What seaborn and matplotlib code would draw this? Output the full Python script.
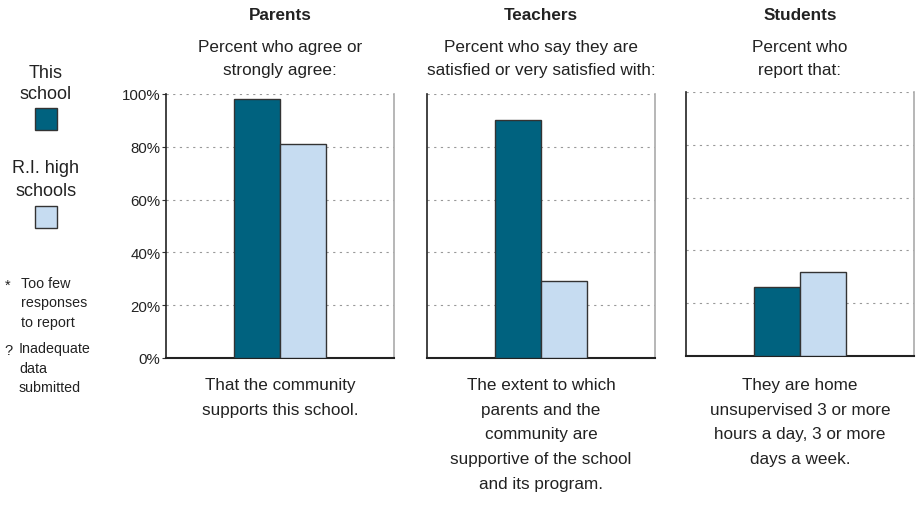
import matplotlib
matplotlib.use("Agg")
import matplotlib.pyplot as plt
import seaborn as sns
import pandas as pd

# ---- data ----
groups = ["Parents", "Teachers", "Students"]
subtitles = ["Percent who agree or\nstrongly agree:",
             "Percent who say they are\nsatisfied or very satisfied with:",
             "Percent who\nreport that:"]
captions = ["That the community\nsupports this school.",
            "The extent to which\nparents and the\ncommunity are\nsupportive of the school\nand its program.",
            "They are home\nunsupervised 3 or more\nhours a day, 3 or more\ndays a week."]
series = ["This school", "R.I. high schools"]
this_school = [98, 90, 26]
ri_high = [81, 29, 32]
yticks = [0, 20, 40, 60, 80, 100]
ytick_labels = ["0%", "20%", "40%", "60%", "80%", "100%"]

colors = {"This school": "#00627F", "R.I. high schools": "#C6DCF1"}
text_color = "#222222"

sns.set_theme(style="white")
plt.rcParams["font.family"] = ["Liberation Sans", "DejaVu Sans"]

W, H = 923, 506
fig = plt.figure(figsize=(W / 100, H / 100), dpi=100)

axes_px = [(166, 95, 228, 264), (427, 95, 228, 264), (686, 93, 228, 264)]

for i, g in enumerate(groups):
    x, top, w, h = axes_px[i]
    ax = fig.add_axes([x / W, (H - top - h) / H, w / W, h / H])
    df = pd.DataFrame({"cat": [g, g], "series": series,
                       "value": [this_school[i], ri_high[i]]})
    sns.barplot(data=df, x="cat", y="value", hue="series", hue_order=series,
                palette=colors, saturation=1, width=0.4, edgecolor="#333333",
                linewidth=1.0, legend=False, ax=ax, zorder=3)
    ax.set_ylim(0, 100)
    ax.set_xlim(-0.5, 0.5)
    ax.set_xlabel("")
    ax.set_ylabel("")
    ax.set_xticks([])
    ax.set_yticks(yticks)
    ax.yaxis.grid(True, linestyle=(0, (2, 4)), color="#999999", linewidth=0.8, zorder=0)
    ax.set_axisbelow(True)
    if i == 0:
        ax.set_yticklabels(ytick_labels, fontsize=10.8, color=text_color)
        ax.tick_params(axis="y", length=3, width=0.8, color="#333333", pad=1, left=True)
    else:
        ax.set_yticklabels([])
        ax.tick_params(axis="y", length=0)
    ax.spines["top"].set_visible(False)
    ax.spines["left"].set_color("#222222")
    ax.spines["left"].set_linewidth(1.2)
    ax.spines["bottom"].set_color("#222222")
    ax.spines["bottom"].set_linewidth(1.5)
    ax.spines["right"].set_color("#aaaaaa")
    ax.spines["right"].set_linewidth(1.2)

    cx = (x + w / 2) / W
    fig.text(cx, 1 - 15 / H, g, ha="center", va="center", fontsize=12.3,
             fontweight="bold", color=text_color)
    fig.text(cx, 1 - 59 / H, subtitles[i], ha="center", va="center", fontsize=12.3,
             color=text_color, linespacing=1.74)
    fig.text(cx, 1 - 378 / H, captions[i], ha="center", va="top", fontsize=12.3,
             color=text_color, linespacing=1.81)

# ---- left legend ----
lx = 46
fig.text(lx / W, 1 - 84 / H, "This\nschool", ha="center", va="center",
         fontsize=13, color=text_color, linespacing=1.36)
fig.text(lx / W, 1 - 180 / H, "R.I. high\nschools", ha="center", va="center",
         fontsize=13, color=text_color, linespacing=1.43)
for top, s in [(109, "This school"), (207, "R.I. high schools")]:
    fig.patches.append(plt.Rectangle((35 / W, 1 - (top + 22) / H), 22 / W, 22 / H,
                                     transform=fig.transFigure, facecolor=colors[s],
                                     edgecolor="#333333", linewidth=1.0))
fig.text(5 / W, 1 - 286 / H, "*", ha="left", va="center", fontsize=10.5, color=text_color)
fig.text(21 / W, 1 - 303 / H, "Too few\nresponses\nto report", ha="left", va="center",
         fontsize=10.3, color=text_color, linespacing=1.5)
fig.text(4 / W, 1 - 351 / H, "?", ha="left", va="center", fontsize=10.5, color=text_color)
fig.text(19 / W, 1 - 369 / H, "Inadequate\ndata\nsubmitted", ha="left", va="center",
         fontsize=10.3, color=text_color, linespacing=1.5)

fig.savefig("out.png", dpi=100, facecolor="white")
